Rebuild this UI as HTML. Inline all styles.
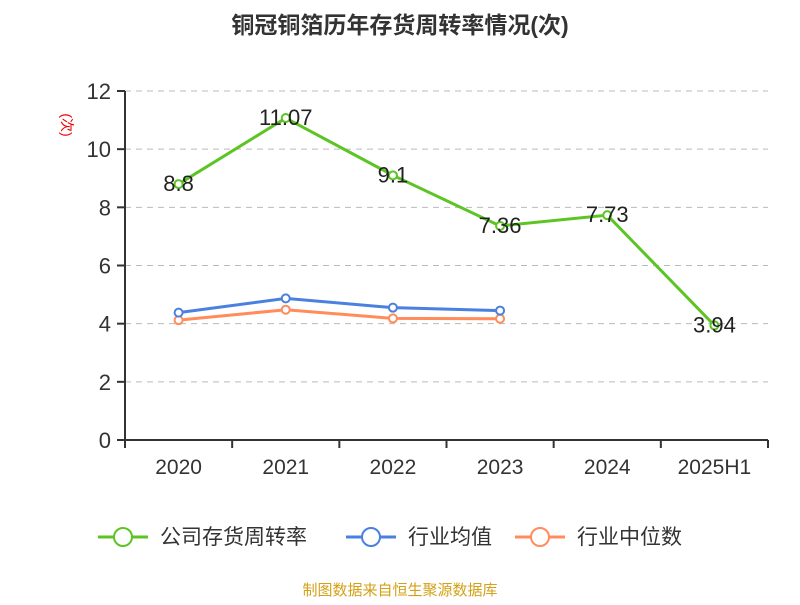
<!DOCTYPE html>
<html><head><meta charset="utf-8"><style>
body{margin:0;background:#fff;font-family:"Liberation Sans","Noto Sans CJK SC",sans-serif}
</style></head><body>
<svg id="c" width="800" height="600" xmlns="http://www.w3.org/2000/svg" font-family="Liberation Sans, Noto Sans CJK SC, sans-serif">
<text x="400" y="33" text-anchor="middle" font-size="23" font-weight="bold" fill="#333">铜冠铜箔历年存货周转率情况(次)</text>
<text transform="translate(62,125) rotate(90)" text-anchor="middle" font-size="14" fill="#e00">(次)</text>
<g id="grid"></g><g id="axes"></g><g id="series"></g>
<g font-size="21" fill="#333">
<g><line x1="98" y1="537" x2="148" y2="537" stroke="#5cc423" stroke-width="3"/><circle cx="123" cy="537" r="9" fill="#fff" stroke="#5cc423" stroke-width="2"/><text x="160" y="544">公司存货周转率</text></g>
<g><line x1="346" y1="537" x2="396" y2="537" stroke="#4a80e0" stroke-width="3"/><circle cx="371" cy="537" r="9" fill="#fff" stroke="#4a80e0" stroke-width="2"/><text x="408" y="544">行业均值</text></g>
<g><line x1="515" y1="537" x2="565" y2="537" stroke="#ff8c5a" stroke-width="3"/><circle cx="540" cy="537" r="9" fill="#fff" stroke="#ff8c5a" stroke-width="2"/><text x="577" y="544">行业中位数</text></g>
</g>
<text x="400" y="595" text-anchor="middle" font-size="15" fill="#d4a017">制图数据来自恒生聚源数据库</text>
</svg>
<script>
const categories=["2020","2021","2022","2023","2024","2025H1"];
const companyValues=[8.8,11.07,9.1,7.36,7.73,3.94];
const industryAvg=[4.38,4.87,4.55,4.45];
const industryMedian=[4.12,4.48,4.18,4.17];
const yTicks=[0,2,4,6,8,10,12];
const NS="http://www.w3.org/2000/svg";
const L=125,R=768,T=91,B=440;
const bw=(R-L)/categories.length;
const x=i=>L+bw*(i+0.5);
const y=v=>B-(v/12)*(B-T);
function mk(tag,at,parent){const e=document.createElementNS(NS,tag);for(const k in at)e.setAttribute(k,at[k]);parent.appendChild(e);return e;}
const grid=document.getElementById('grid'),axes=document.getElementById('axes'),ser=document.getElementById('series');
yTicks.forEach(t=>{
 if(t>0){const g=mk('line',{x1:L,x2:R,y1:y(t),y2:y(t),stroke:'#bbb','stroke-dasharray':'6,5'},grid);
 
 }
 const tk=mk('line',{x1:L-8,x2:L,y1:y(t),y2:y(t),stroke:'#333','stroke-width':2},axes);
 
 
 const tx=mk('text',{x:L-14,y:y(t)+8,'text-anchor':'end','font-size':22,fill:'#333'},axes);tx.textContent=t;
 
 
});
const ya=mk('line',{x1:L,x2:L,y1:T,y2:B,stroke:'#333','stroke-width':2},axes);


const xa=mk('line',{x1:L,x2:R,y1:B,y2:B,stroke:'#333','stroke-width':2},axes);


for(let i=0;i<=categories.length;i++){const t=mk('line',{x1:L+bw*i,x2:L+bw*i,y1:B,y2:B+8,stroke:'#333','stroke-width':2},axes);
 
 }
categories.forEach((c,i)=>{const t=mk('text',{x:x(i),y:B+34,'text-anchor':'middle','font-size':21,fill:'#333'},axes);t.textContent=c;
 
 });
function series(vals,color,name,labels){
 const p=mk('polyline',{points:vals.map((v,i)=>x(i)+','+y(v)).join(' '),fill:'none',stroke:color,'stroke-width':3},ser);
 
 
 vals.forEach((v,i)=>{const c=mk('circle',{cx:x(i),cy:y(v),r:4,fill:'#fff',stroke:color,'stroke-width':2},ser);
  
  
  if(labels){const t=mk('text',{x:x(i),y:y(v)+7,'text-anchor':'middle','font-size':22,fill:'#222'},ser);t.textContent=v;
   
   }
 });
}
series(industryMedian,'#ff8c5a','industry-median',false);
series(industryAvg,'#4a80e0','industry-avg',false);
series(companyValues,'#5cc423','company',true);
</script>
</body></html>
